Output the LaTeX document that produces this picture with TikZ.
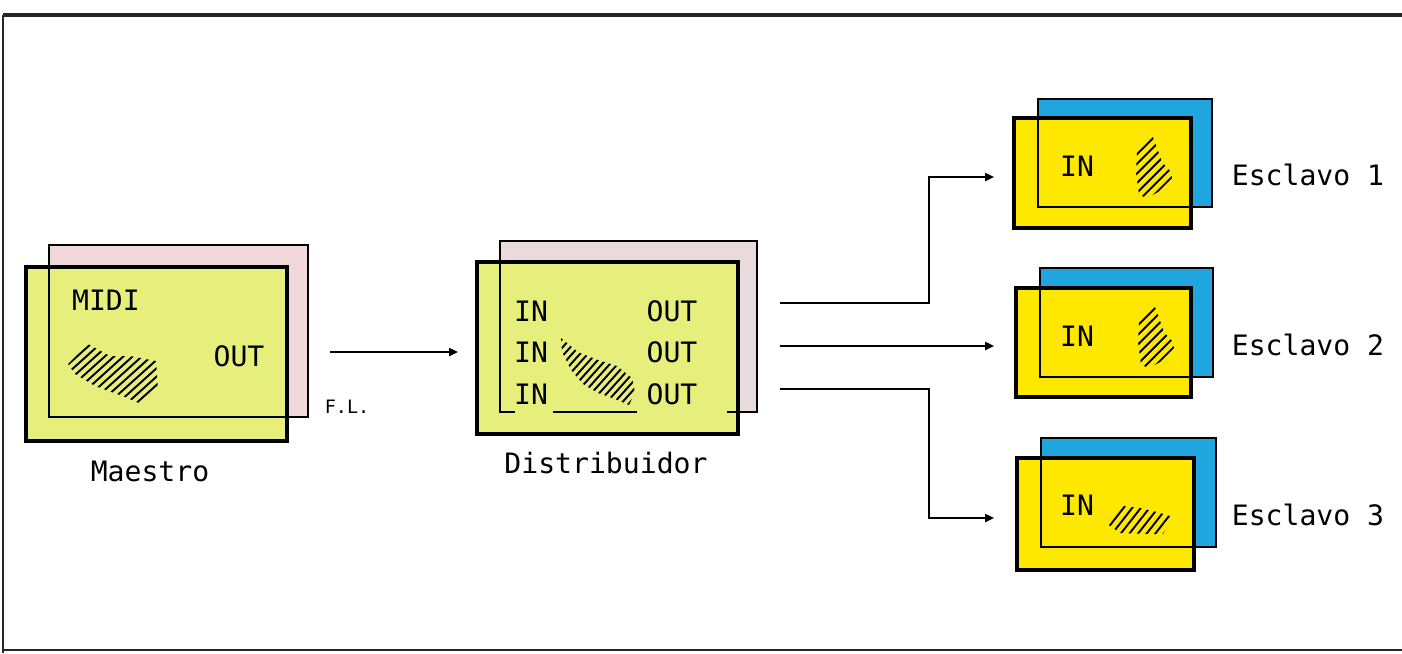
\documentclass[tikz,border=0pt]{standalone}
\usepackage{fontspec}
\setmainfont{DejaVu Sans Mono}
\usetikzlibrary{arrows.meta}
\definecolor{limefill}{HTML}{E6EE7C}
\definecolor{pinkback}{HTML}{EFD7DA}
\definecolor{greyback}{HTML}{E7DBDD}
\definecolor{slaveyellow}{HTML}{FFE800}
\definecolor{slaveblue}{HTML}{1FA6DE}
\tikzset{
  frontbox/.style={draw=black, line width=2.4pt, line join=miter},
  backline/.style={draw=black, line width=1.1pt},
  conn/.style={draw=black, line width=1.1pt},
  arr/.style={conn, -{Triangle[length=5pt,width=4.5pt]}},
  lbl/.style={inner sep=0pt, font=\fontsize{16}{18}\selectfont},
  small/.style={inner sep=0pt, font=\fontsize{10.5}{12}\selectfont},
  hatchline/.style={draw=black, line width=1.1pt},
  framel/.style={draw=black!85, line width=1.2pt},
}
\newcommand{\myhatch}[5]{%
  \begin{scope}
    \clip #1;
    \foreach \k in {-20,...,20}{%
      \draw[hatchline] ({#2+\k*#5*sin(#4)-80*cos(#4)},{#3+\k*#5*cos(#4)+80*sin(#4)}) -- ++({160*cos(#4)},{-160*sin(#4)});
    }
  \end{scope}}
\begin{document}
\begin{tikzpicture}[x=0.02cm,y=-0.02cm]
\useasboundingbox (0,0) rectangle (1402,653);
\fill[white] (0,0) rectangle (1402,653);
% frame
\draw[framel, line width=1.8pt] (3,15) -- (1402,15);
\draw[framel] (3,15) -- (3,653);
\draw[framel] (3,650) -- (1402,650);

% ===== Maestro =====
\fill[pinkback] (49,245) rectangle (308,417);
\draw[backline] (49,245) rectangle (308,417);
\fill[limefill] (26,267) rectangle (287,441);
\draw[backline] (49,267) -- (49,417) -- (287,417);
\draw[frontbox] (26,267) rectangle (287,441);
\node[lbl] (midi) at (106,300) {MIDI};
\node[lbl] (mout) at (239,356) {OUT};
\myhatch{(68,364) -- (88,344) -- (110,356) -- (130,356) -- (156,361) -- (158,389) -- (141,404) -- (125,397) -- (95,386) -- (75,374) -- cycle}{112}{375}{42}{6.2}
\node[small] (fl) at (347,407) {F.L.};
\node[lbl] (maestro) at (150,471) {Maestro};

% ===== Distribuidor =====
\fill[greyback] (500,241) rectangle (757,412);
\draw[backline] (500,241) rectangle (757,412);
\fill[limefill] (477,262) rectangle (738,434);
\draw[backline] (500,262) -- (500,412) -- (515,412);
\draw[backline] (553,412) -- (637,412);
\draw[backline] (727,412) -- (738,412);
\draw[frontbox] (477,262) rectangle (738,434);
\node[lbl] (din1) at (531,311) {IN};
\node[lbl] (din2) at (531,352) {IN};
\node[lbl] (din3) at (531,394) {IN};
\node[lbl] (dout1) at (672,311) {OUT};
\node[lbl] (dout2) at (672,352) {OUT};
\node[lbl] (dout3) at (672,394) {OUT};
\myhatch{(561,338) -- (578,352) -- (598,360) -- (617,366) -- (632,378) -- (635,392) -- (629,405) -- (615,399) -- (598,393) -- (583,384) -- (571,370) -- (562,352) -- cycle}{600}{375}{48}{5.8}
\node[lbl] (distrib) at (606,463) {Distribuidor};

% ===== Esclavos =====
% Esclavo 1
\fill[slaveblue] (1038,99) rectangle (1212,207);
\draw[backline] (1038,99) rectangle (1212,207);
\fill[slaveyellow] (1014,118) rectangle (1191,228);
\draw[backline] (1038,118) -- (1038,207) -- (1191,207);
\draw[frontbox] (1014,118) rectangle (1191,228);
\node[lbl] (s1in) at (1077,166) {IN};
\myhatch{(1137,150) -- (1151,132) -- (1156,145) -- (1162,162) -- (1171,172) -- (1173,184) -- (1147,198) -- (1139,195) -- (1136,172) -- cycle}{1154}{166}{45}{6.8}
\node[lbl] (esc1) at (1308,175) {Esclavo 1};
% Esclavo 2
\fill[slaveblue] (1040,268) rectangle (1213,377);
\draw[backline] (1040,268) rectangle (1213,377);
\fill[slaveyellow] (1016,288) rectangle (1191,397);
\draw[backline] (1040,288) -- (1040,377) -- (1191,377);
\draw[frontbox] (1016,288) rectangle (1191,397);
\node[lbl] (s2in) at (1077,336) {IN};
\myhatch{(1139,320) -- (1153,302) -- (1158,315) -- (1164,332) -- (1173,342) -- (1175,354) -- (1149,368) -- (1141,365) -- (1138,342) -- cycle}{1156}{336}{45}{6.8}
\node[lbl] (esc2) at (1308,345) {Esclavo 2};
% Esclavo 3
\fill[slaveblue] (1041,438) rectangle (1216,547);
\draw[backline] (1041,438) rectangle (1216,547);
\fill[slaveyellow] (1017,458) rectangle (1194,570);
\draw[backline] (1041,458) -- (1041,547) -- (1194,547);
\draw[frontbox] (1017,458) rectangle (1194,570);
\node[lbl] (s3in) at (1077,505) {IN};
\myhatch{(1107,524) -- (1123,506) -- (1140,508) -- (1157,512) -- (1173,517) -- (1163,534) -- (1150,534) -- (1120,533) -- cycle}{1140}{520}{52}{6.8}
\node[lbl] (esc3) at (1308,515) {Esclavo 3};

% ===== connectors =====
\coordinate (mo) at (330,352);
\coordinate (di) at (458,352);
\coordinate (do1) at (780,303);
\coordinate (do2) at (780,346);
\coordinate (do3) at (780,389);
\coordinate (j1) at (929,303);
\coordinate (j3) at (929,389);
\coordinate (si1) at (994,177);
\coordinate (si2) at (994,346);
\coordinate (si3) at (994,518);
\draw[arr] (mo) -- (di);
\draw[arr] (do1) -- (j1) |- (si1);
\draw[arr] (do2) -- (si2);
\draw[arr] (do3) -- (j3) |- (si3);
\end{tikzpicture}
\end{document}
